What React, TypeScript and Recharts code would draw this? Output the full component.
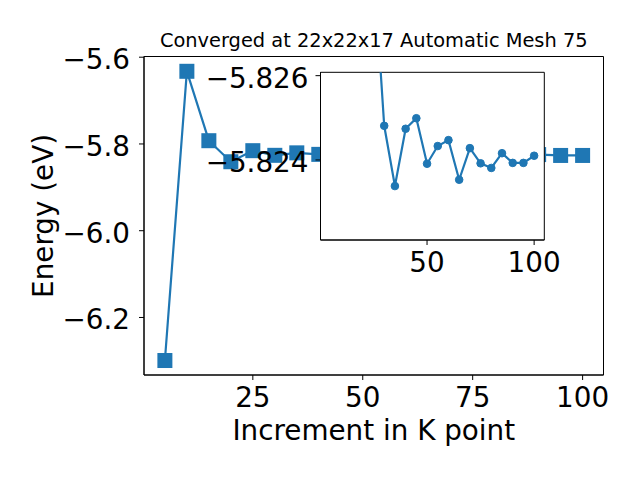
import { LineChart, Line, XAxis, YAxis, CartesianGrid, ReferenceArea } from 'recharts'

// main convergence curve: energy vs k-point increment
const kPoints = [5, 10, 15, 20, 25, 30, 35, 40, 45, 50, 55, 60, 65, 70, 75, 80, 85, 90, 95, 100]
const energy = [
  -6.2992, -5.6325, -5.7925, -5.841, -5.8155, -5.8262, -5.8205, -5.824, -5.825, -5.824,
  -5.8244, -5.8246, -5.8236, -5.8244, -5.824, -5.8239, -5.8242, -5.8245, -5.8265, -5.8265,
]

// zoomed inset (y axis inverted)
const insetK = [25, 30, 35, 40, 45, 50, 55, 60, 65, 70, 75, 80, 85, 90, 95, 100]
const insetEnergy = [
  -5.8287, -5.82481, -5.82338, -5.82474, -5.82499, -5.82391, -5.82433, -5.82447,
  -5.82353, -5.82428, -5.82392, -5.82381, -5.82416, -5.82393, -5.82393, -5.8241,
]

const mainXTicks = [25, 50, 75, 100]
const mainYTicks = [-6.2, -6.0, -5.8, -5.6]
const insetXTicks = [50, 100]
const insetYTicks = [-5.826, -5.824]

const BLUE = '#1f77b4'
const FONT = "'DejaVu Sans', sans-serif"
const TICK = { fontSize: 27.8, fill: '#000', fontFamily: FONT }
const YTICK = { ...TICK, dy: 2 }

const fmt = (d: number) => (v: number) => (v < 0 ? '\u2212' : '') + Math.abs(v).toFixed(d)

const mainData = kPoints.map((k, i) => ({ k, e: energy[i] }))
const insetData = insetK.map((k, i) => ({ k, e: insetEnergy[i] }))

const X_DOM: [number, number] = [0.25, 104.75]
const Y_DOM: [number, number] = [-6.3326, -5.5984]
const IY_DOM: [number, number] = [-5.82608, -5.8221]

function Square(props: any) {
  const { cx, cy, index } = props
  if (cx == null || cy == null) return null
  return <rect key={`sq-${index}`} x={cx - 7.5} y={cy - 7.5} width={15} height={15} fill={BLUE} />
}

const abs = (s: any) => ({ position: 'absolute' as const, ...s })

export default function App() {
  return (
    <div style={abs({ left: 0, top: 0, width: 640, height: 480, background: '#fff', fontFamily: FONT })}>
      <div style={abs({ left: 0, top: 0 })}>
        <LineChart width={640} height={480} data={mainData} margin={{ top: 56.5, right: 36.5, bottom: 75, left: 84 }}>
          <XAxis dataKey="k" type="number" domain={X_DOM} ticks={mainXTicks} interval={0}
            tick={TICK} tickSize={5} tickMargin={7} height={30} stroke="#000" />
          <YAxis type="number" domain={Y_DOM} ticks={mainYTicks} interval={0} tickFormatter={fmt(1)}
            tick={YTICK} tickSize={5} tickMargin={9} width={60} stroke="#000" />
          <ReferenceArea x1={X_DOM[0]} x2={X_DOM[1]} y1={Y_DOM[0]} y2={Y_DOM[1]} fill="none" stroke="#000" strokeWidth={1} />
          <Line dataKey="e" stroke={BLUE} strokeWidth={2.2} dot={<Square />} isAnimationActive={false} />
        </LineChart>
      </div>

      {/* inset */}
      <div style={abs({ left: 0, top: 0 })}>
        <LineChart width={640} height={480} data={insetData} margin={{ top: 72.3, right: 95.7, bottom: 210, left: 260.5 }}>
          <CartesianGrid fill="#fff" horizontal={false} vertical={false} stroke="none" />
          <XAxis dataKey="k" type="number" domain={X_DOM} ticks={insetXTicks} interval={0}
            tick={TICK} tickSize={5} tickMargin={7} height={30} stroke="#000" />
          <YAxis type="number" reversed allowDataOverflow domain={IY_DOM} ticks={insetYTicks} interval={0}
            tickFormatter={fmt(3)} tick={YTICK} tickSize={5} tickMargin={7} width={60} stroke="#000" />
          <ReferenceArea x1={X_DOM[0]} x2={X_DOM[1]} y1={IY_DOM[0]} y2={IY_DOM[1]} fill="none" stroke="#000" strokeWidth={1} />
          <Line dataKey="e" stroke={BLUE} strokeWidth={2.2}
            dot={{ r: 3.8, fill: BLUE, stroke: BLUE, strokeWidth: 1 }} isAnimationActive={false} />
        </LineChart>
      </div>

      <div style={abs({ left: 144, width: 459.5, top: 31.3, textAlign: 'center', fontSize: 19.4, lineHeight: '19.4px' })}>
        Converged at 22x22x17 Automatic Mesh 75
      </div>
      <div style={abs({ left: 144, width: 459.5, top: 417.2, textAlign: 'center', fontSize: 27.8, lineHeight: '27.8px' })}>
        Increment in K point
      </div>
      <div style={abs({
        left: -106.3, top: 202.4, width: 300, height: 27.8, textAlign: 'center',
        fontSize: 27.8, lineHeight: '27.8px', transform: 'rotate(-90deg)',
      })}>
        Energy (eV)
      </div>
    </div>
  )
}
